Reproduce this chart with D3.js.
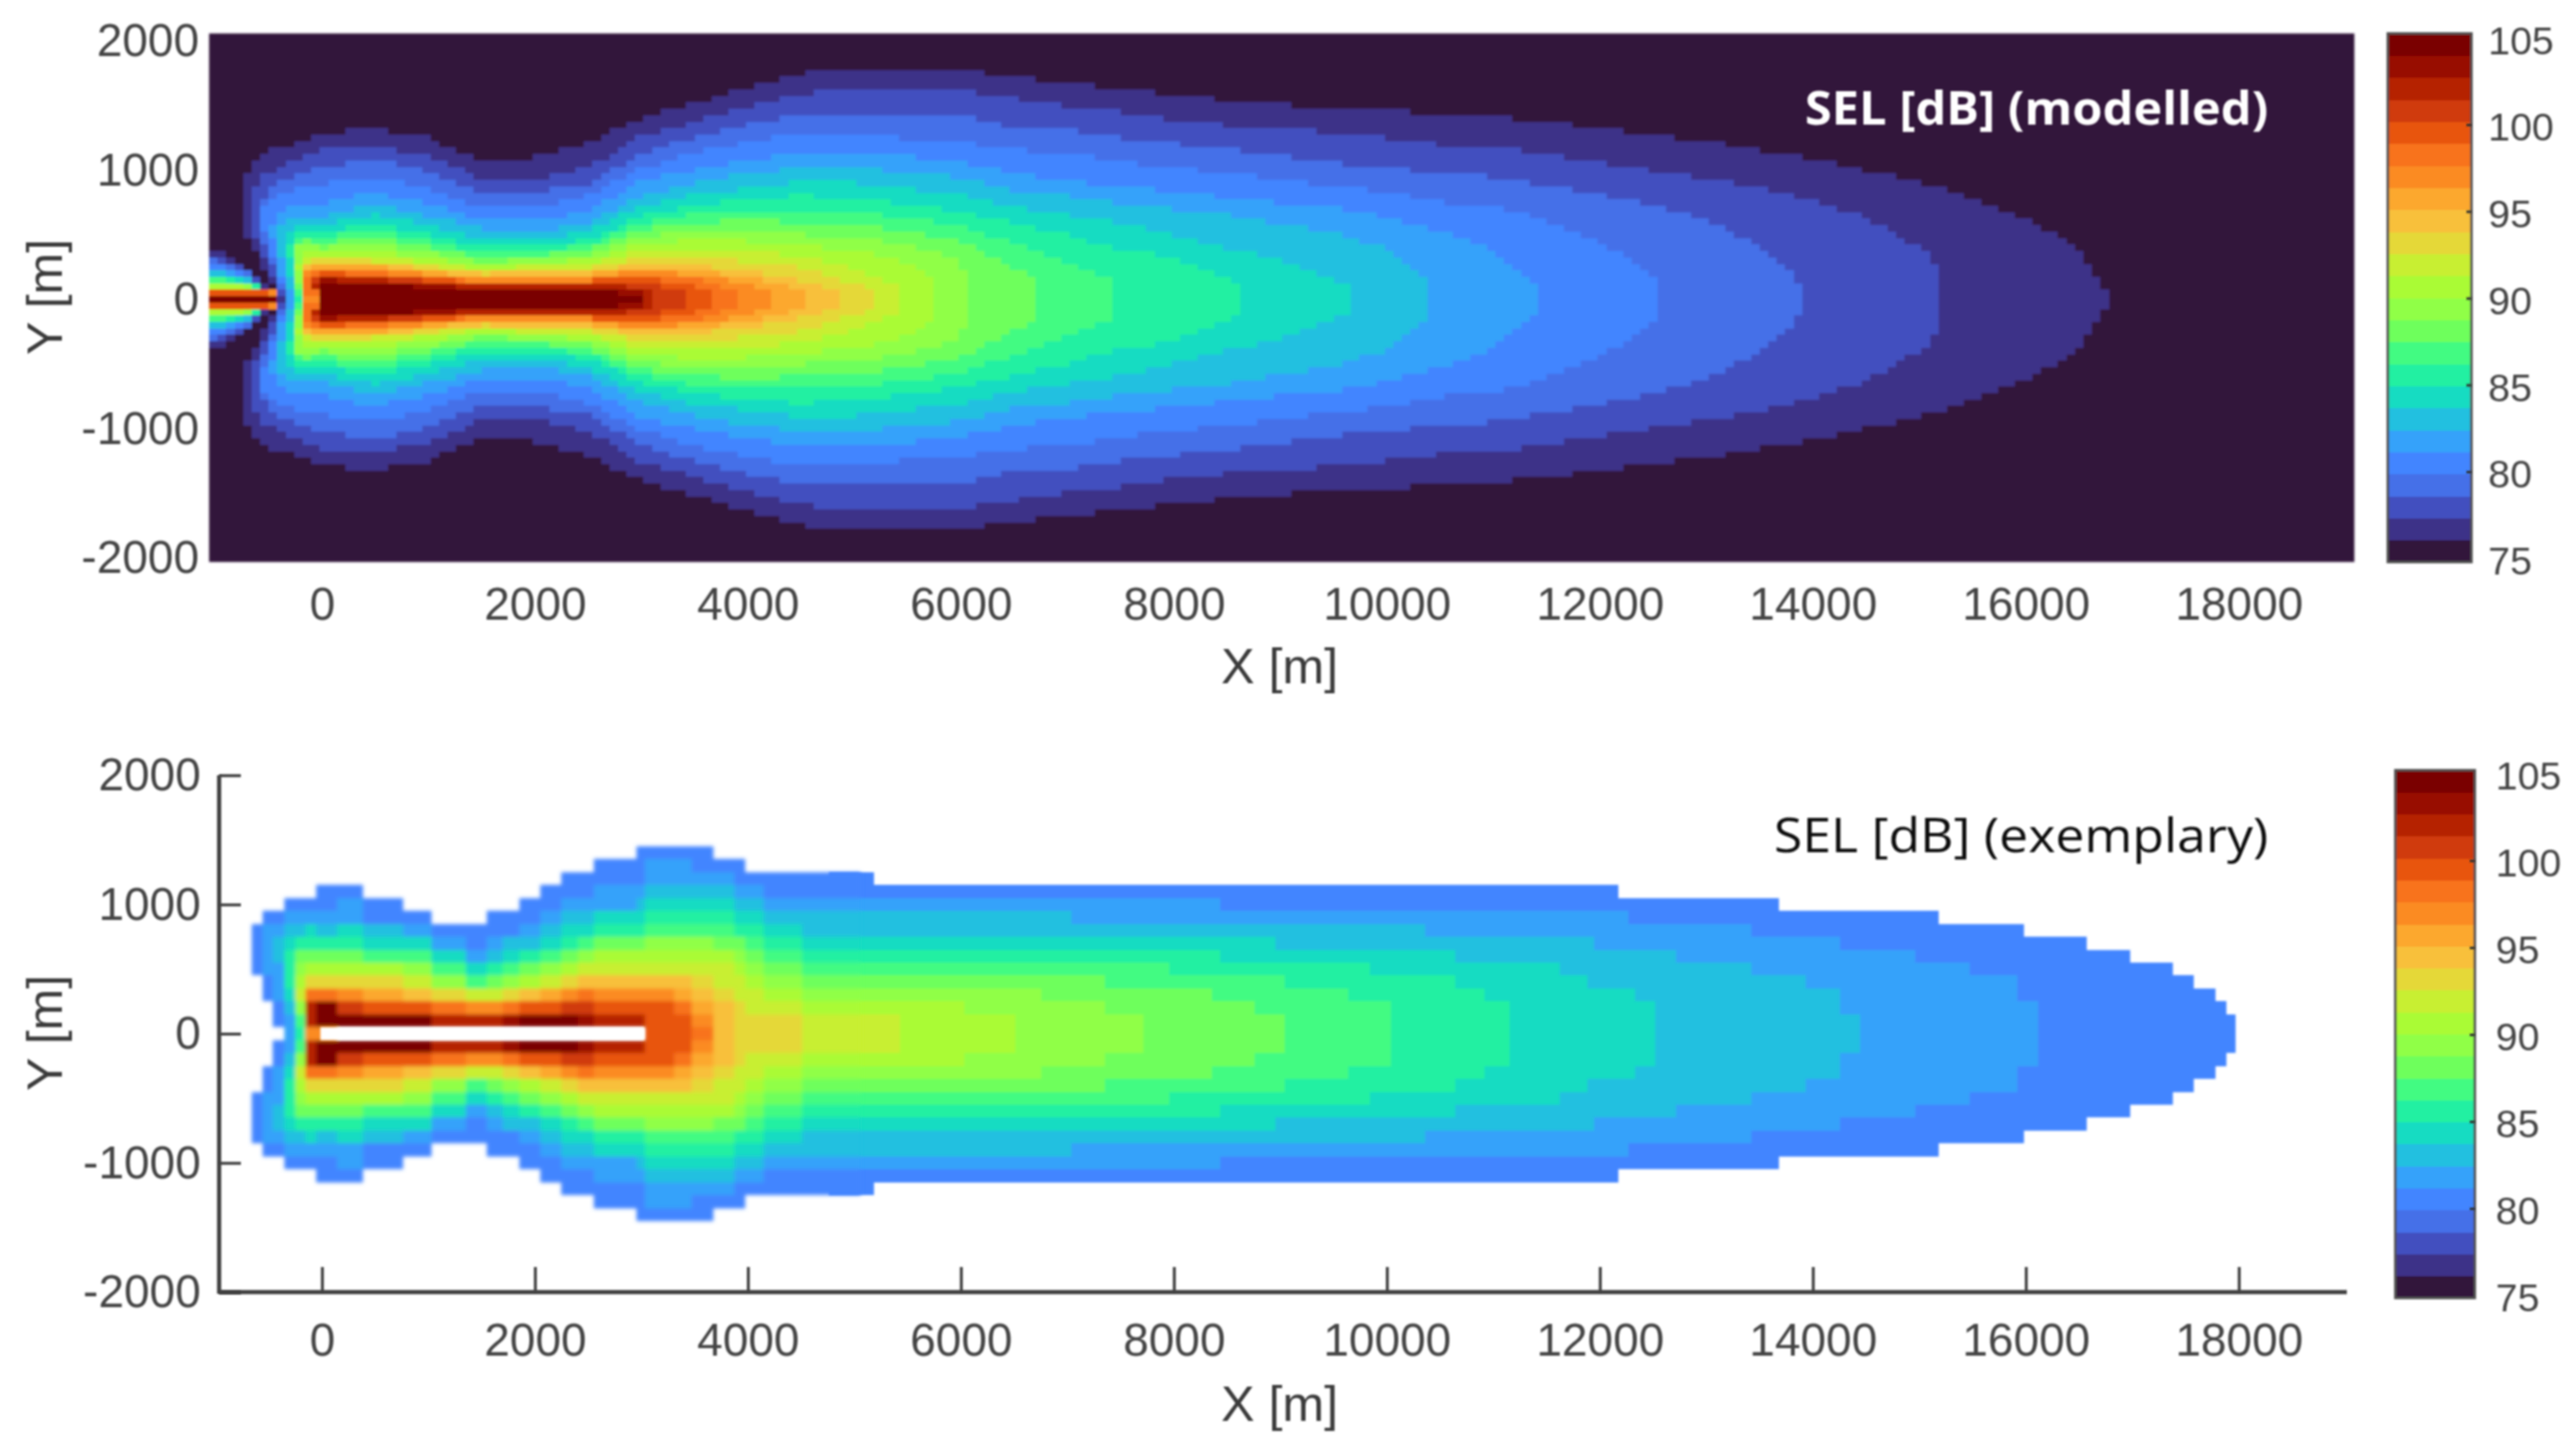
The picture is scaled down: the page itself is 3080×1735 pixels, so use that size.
<!DOCTYPE html>
<html><head><meta charset="utf-8">
<script src="https://cdn.jsdelivr.net/npm/d3@7"></script>
<style>html,body{margin:0;background:#fff}svg{display:block}text{font-family:"Liberation Sans",Arial,sans-serif}</style>
</head><body><svg id="c" width="3080" height="1735"></svg>
<script>
// ---- shared values ----
const xTicks=[0,2000,4000,6000,8000,10000,12000,14000,16000,18000];
const yTicks=[-2000,-1000,0,1000,2000];
const barTicks=[75,80,85,90,95,100,105];
const xDomain=[-1060,19085];
const bandColors=["#30123b","#3c3388","#4350bf","#4470e8","#4285ff","#35a2fa","#22c0e0","#18dcc2","#20f0a2","#42fb82","#6eff5c","#90ff46","#aafb36","#c8ef33","#e5d838","#f8c03a","#fca82f","#fb8b24","#f8731c","#e85510","#d03a08","#b52004","#980f02","#7a0403"];

// ---- modelled panel: half-width (m) of each SEL contour at these X stations ----
const modelledStations=[0,500,1000,1500,2000,2500,3000,3500,4000,4500,5000,5500,6000,6500,7000,7500,8000,8500,9000,9500,10000,10500,11000,11500,12000,12500,13000,13500,14000,14500,15000,15500,16000,16500];
const modelledHalfWidths=[
[1281,1324,1249,1055,1098,1217,1400,1519,1637,1745,1788,1799,1767,1723,1669,1637,1572,1540,1508,1475,1465,1432,1421,1368,1324,1270,1227,1152,1087,990,915,771,627,396],
[1152,1195,1098,936,915,1022,1260,1378,1486,1583,1637,1637,1616,1551,1497,1454,1389,1346,1314,1292,1249,1195,1184,1119,1055,990,936,861,764,634,396],
[1012,1087,990,807,828,893,1130,1260,1357,1432,1443,1443,1421,1335,1314,1249,1206,1163,1109,1055,1022,979,947,882,807,731,613,418],
[893,947,850,710,699,807,1012,1141,1217,1281,1260,1249,1217,1152,1141,1066,1022,979,925,882,828,753,720,613,440,200],
[742,828,731,623,613,677,915,1001,1076,1130,1119,1109,1055,979,915,871,839,785,742,710,634,526,386],
[645,731,645,548,526,591,807,904,969,1022,1012,990,936,850,807,742,699,656,580,516,397],
[580,656,569,472,462,526,720,807,861,915,904,861,807,710,656,591,494,397,300,160],
[526,591,505,408,418,462,645,731,774,807,774,742,677,591,505,375,332,160],
[483,537,451,354,375,418,591,656,688,699,667,634,559,440,289],
[440,472,408,321,343,375,537,591,613,591,569,537,440,246],
[397,418,365,289,311,343,483,526,537,505,472,429,289],
[365,365,321,257,278,311,429,462,451,418,375,289],
[332,332,289,235,257,278,375,397,375,332,246],
[311,300,257,214,235,246,321,332,289,246,116],
[289,278,235,198,214,214,278,267,224,138],
[267,257,214,181,192,192,246,224,170],
[246,235,192,160,170,170,220,192,130],
[224,214,170,142,149,149,192,160],
[207,192,165,140,140,150,164,116],
[186,175,145,120,120,130,127],
[170,155,125,105,105,110,95],
[155,135,110,90,88,92,70],
[140,120,95,75,70,70,30]];
const modelledTips=[[16815,0],[15210,250],[13925,100],[12540,120],[11430,100],[10420,150],[9640,100],[8620,100],[7420,150],[6740,120],[6030,200],[5720,150],[5435,90],[5200,70],[4830,80],[4515,70],[4230,60],[3910,60],[3630,60],[3440,50],[3130,40],[3060,30],[3010,0]];
const modelledLeftEdges=[
[[-379,0],[-471,138],[-589,311],[-720,505],[-759,613],[-759,936],[-667,1022],[-563,1119],[-353,1184],[-65,1270]],
[[-366,0],[-432,138],[-550,332],[-641,505],[-667,828],[-536,958],[-327,1066],[-13,1152]],
[[-353,0],[-419,181],[-563,462],[-615,720],[-458,871],[-222,979]],
[[-340,0],[-445,267],[-563,569],[-563,720],[-379,807],[-170,871]],
[[-327,0],[-405,267],[-471,526],[-432,656],[-275,720]],
[[-275,0],[-353,246],[-405,440],[-379,569],[-222,645]],
[[-248,0],[-314,246],[-353,397],[-301,526],[-170,591]],
[[-222,0],[-288,246],[-314,397],[-275,505],[-144,548]],
[[-209,0],[-275,246],[-275,440],[-170,494]],
[[-196,0],[-261,246],[-248,440],[-144,462]],
[[-183,0],[-248,246],[-235,397],[-117,440]],
[[-170,0],[-227,246],[-209,354],[-91,397]],
[[-165,0],[-209,181],[-183,311],[-78,354]],
[[-157,0],[-183,181],[-157,289]],
[[-157,0],[-157,257]],
[[-157,0],[-157,235]],
[[-144,0],[-144,203]],
[[-52,0],[-52,41],[-144,41],[-144,170]],
[[-39,0],[-39,52],[-139,62],[-139,160]],
[[-26,0],[-39,62],[-131,73],[-131,138]],
[[-26,0],[-39,73],[-104,95],[-104,127]],
[[-26,0],[-26,95],[-65,116]],
[[-13,0],[-13,95]]];
// small wedge at the left edge of the modelled panel
const lobeStations=[-1100,-878,-694,-563,-458];
const lobeHalfWidths=[[408,332,237,127,52],[370,300,215,105,40],[335,275,200,95,30],[290,250,180,85,20],[250,220,165,90,30],[215,195,150,88,35],[195,180,140,86,38],[175,165,130,84,40],[160,150,120,82,42],[140,135,112,80,44],[125,120,105,78,46],[112,110,98,76,48],[100,100,90,74,50],[92,92,85,72,52],[85,85,80,70,54],[78,78,75,66,52],[72,72,70,62,50],[64,64,63,58,46],[58,58,58,54,42],[50,50,50,48,38],[44,44,44,42,32],[36,36,36,34,26],[30,30,30,28,20]];
const lobeTips=[-379,-400,-420,-430,-435,-438,-440,-440,-440,-440,-440,-440,-440,-440,-440,-440,-440,-445,-445,-445,-445,-445,-445];

// ---- exemplary panel: near field, band per row (Y = 0,100,...,1400) in columns starting at X ----
const nearColumnStarts=[-660,-560,-460,-350,-250,-155,-55,145,386,766,1027,1350,1550,1700,1850,2050,2250,2400,2550,2950,3030,3310,3470,3672,3870,3972,4150,4510];
const nearColumnEnd=5060;
const nearBands=[
[0,0,0,0,0,4,4,4,4,0,0,0,0,0,0],
[0,0,0,4,4,5,5,5,5,4,0,0,0,0,0],
[0,4,4,5,5,5,6,6,5,4,0,0,0,0,0],
[5,5,6,7,8,8,8,7,6,5,4,0,0,0,0],
[8,9,11,13,12,11,10,8,6,5,4,0,0,0,0],
[17,21,21,18,14,12,10,8,7,5,4,0,0,0,0],
[17,23,23,18,14,12,10,8,6,5,4,4,0,0,0],
[0,23,20,17,14,12,10,8,7,5,5,4,0,0,0],
[0,23,19,16,14,12,9,7,6,4,4,0,0,0,0],
[0,23,19,15,13,11,9,7,5,4,0,0,0,0,0],
[0,21,18,14,11,9,7,5,4,0,0,0,0,0,0],
[0,21,17,13,9,7,5,4,4,0,0,0,0,0,0],
[0,21,17,13,10,8,6,5,4,4,0,0,0,0,0],
[0,22,18,14,11,9,7,6,4,4,0,0,0,0,0],
[0,23,19,15,12,10,8,6,5,4,4,0,0,0,0],
[0,23,19,16,13,11,9,7,6,5,4,4,0,0,0],
[0,23,20,17,14,12,10,8,7,6,5,4,4,0,0],
[0,22,20,18,15,13,11,9,7,6,5,4,4,0,0],
[0,21,19,17,15,13,12,10,8,7,5,5,4,4,0],
[0,21,19,17,15,13,12,10,8,7,6,5,4,4,4],
[19,19,19,17,15,13,12,11,9,8,7,6,5,5,4],
[19,19,18,16,15,13,12,11,9,8,7,6,5,5,4],
[18,17,16,15,14,13,12,11,9,8,7,6,5,4,4],
[15,15,15,14,13,13,12,10,9,8,7,6,5,4,0],
[14,14,14,13,13,12,11,10,8,7,6,5,4,4,0],
[14,14,13,13,12,11,10,9,8,7,6,5,4,0,0],
[14,14,13,12,11,10,9,8,7,6,5,4,4,0,0],
[13,13,12,11,10,9,8,7,6,6,5,4,4,0,0]];
// far field: for each band, [until X, half-width] stair steps; painted from farStart, under the near field
const farStart=4760;
const farBandIds=[4,5,6,7,8,9,10,11,12,13];
const farStairs=[
[[5180,1250],[12172,1150],[13680,1050],[15180,950],[15985,850],[16570,750],[16980,650],[17380,550],[17580,450],[17780,350],[17880,250],[17970,150]],
[[8436,1050],[12267,950],[13421,850],[14254,750],[14959,650],[15472,550],[15920,450],[16113,250]],
[[7034,950],[10360,850],[11946,750],[12716,650],[13421,550],[13933,450],[14254,350],[14446,150]],
[[8957,750],[10640,650],[11626,550],[11882,450],[12331,350],[12523,250]],
[[8436,650],[9839,550],[10640,450],[10920,350],[11150,250]],
[[7955,550],[9037,450],[9638,350],[10040,250]],
[[7354,450],[8356,350],[8757,250],[9037,150]],
[[6753,350],[7354,250],[7715,150]],
[[6032,250],[6510,150]],
[[5430,150]]];
const sourceLineX=[-15,3030];
const sourceLineHalfWidth=50;

// ---- scales ----
const svg=d3.select("#c");
const defs=svg.append("defs");
defs.append("filter").attr("id","soft").append("feGaussianBlur").attr("stdDeviation",1.6);
defs.append("filter").attr("id","softNear").append("feGaussianBlur").attr("stdDeviation",2.4);
defs.append("filter").attr("id","softText").append("feGaussianBlur").attr("stdDeviation",0.9);
const x=d3.scaleLinear().domain(xDomain).range([250,2815]);
const yTop=d3.scaleLinear().domain([-2000,2000]).range([667,49]);
const yBot=d3.scaleLinear().domain([-2000,2000]).range([1545,927]);
const panelTopPx=[40,672];

// ---- modelled heat map: pcolor-like cells (80 m x 50 m) coloured by the contours ----
function closed(upper){return upper.concat(upper.slice().reverse().map(p=>[p[0],-p[1]]));}
const mainPolys=modelledHalfWidths.map((row,i)=>closed(modelledLeftEdges[i].concat(row.map((v,j)=>[modelledStations[j],v])).concat([modelledTips[i],[modelledTips[i][0],0]])));
const lobePolys=lobeHalfWidths.map((row,i)=>closed(row.map((v,j)=>[lobeStations[j],v]).concat([[lobeTips[i],0]])));
function bandAt(X,Y){for(let i=22;i>=0;i--){if(d3.polygonContains(mainPolys[i],[X,Y])||d3.polygonContains(lobePolys[i],[X,Y]))return i+1;}return 0;}
const dX=80,dY=50,runs=[];
for(let k=0;k<=37;k++){
  const Y=k*dY+0.01;let start=null,cur=0;
  for(let X=xDomain[0];X<=xDomain[1];X+=dX){
    const b=bandAt(X+dX/2,Y);
    if(b!==cur){if(cur)runs.push({x0:start,x1:X,k,b:cur});start=X;cur=b;}
  }
  if(cur)runs.push({x0:start,x1:xDomain[1],k,b:cur});
}
const gTop=svg.append("g").attr("filter","url(#soft)").attr("shape-rendering","crispEdges");
gTop.append("rect").attr("x",x(xDomain[0])).attr("width",x(xDomain[1])-x(xDomain[0])).attr("y",panelTopPx[0]).attr("height",panelTopPx[1]-panelTopPx[0]).attr("fill",bandColors[0]);
[1,-1].forEach(sign=>{
  gTop.append("g").selectAll("rect").data(runs.filter(r=>sign>0||r.k>0)).join("rect")
   .attr("x",r=>Math.round(x(r.x0))).attr("width",r=>Math.round(x(r.x1))-Math.round(x(r.x0)))
   .attr("y",r=>Math.round(yTop(sign*r.k*dY+dY/2)))
   .attr("height",r=>Math.round(yTop(sign*r.k*dY-dY/2))-Math.round(yTop(sign*r.k*dY+dY/2)))
   .attr("fill",r=>bandColors[r.b]);
});

// ---- exemplary heat map ----
const gBot=svg.append("g").attr("filter","url(#soft)").attr("shape-rendering","crispEdges");
farBandIds.forEach((b,i)=>{
  let from=farStart;
  const steps=farStairs[i].map(([until,h])=>{const s={x0:from,x1:until,h};from=until;return s;});
  gBot.append("g").selectAll("rect").data(steps).join("rect")
   .attr("x",s=>Math.round(x(s.x0))).attr("width",s=>Math.round(x(s.x1))-Math.round(x(s.x0)))
   .attr("y",s=>Math.round(yBot(s.h))).attr("height",s=>Math.round(yBot(-s.h))-Math.round(yBot(s.h)))
   .attr("fill",bandColors[b]);
});
const nearCells=[];
nearBands.forEach((col,c)=>{
  const x0=nearColumnStarts[c],x1=c+1<nearColumnStarts.length?nearColumnStarts[c+1]:nearColumnEnd;
  col.forEach((b,r)=>{if(b){nearCells.push({x0,x1,r,s:1,b});if(r>0)nearCells.push({x0,x1,r,s:-1,b});}});
});
const gNear=svg.append("g").attr("filter","url(#softNear)").attr("shape-rendering","crispEdges");
gNear.selectAll("rect").data(nearCells).join("rect")
 .attr("x",d=>Math.round(x(d.x0))).attr("width",d=>Math.round(x(d.x1))-Math.round(x(d.x0)))
 .attr("y",d=>Math.round(yBot(d.s*d.r*100+50)))
 .attr("height",d=>Math.round(yBot(d.s*d.r*100-50))-Math.round(yBot(d.s*d.r*100+50)))
 .attr("fill",d=>bandColors[d.b]);
svg.append("rect").attr("filter","url(#soft)").attr("x",x(sourceLineX[0])).attr("width",x(sourceLineX[1])-x(sourceLineX[0]))
 .attr("y",yBot(sourceLineHalfWidth)).attr("height",yBot(-sourceLineHalfWidth)-yBot(sourceLineHalfWidth)).attr("fill","#fff");

// ---- axes ----
const tf=d=>String(d),txtCol="#454545",fs=55;
function styleAxis(g,lineW,showLines){
  g.select(".domain").remove();
  g.selectAll("text").attr("font-size",fs).attr("fill",txtCol).attr("font-family",'"Liberation Sans",Arial,sans-serif');
  g.selectAll("line").attr("stroke","#404040").attr("stroke-width",lineW).attr("display",showLines?null:"none");
  g.attr("filter","url(#softText)");
}
svg.append("g").attr("transform","translate(0,672)").call(d3.axisBottom(x).tickValues(xTicks).tickFormat(tf).tickSize(0).tickPadding(30)).call(g=>styleAxis(g,0,false));
svg.append("g").attr("transform","translate(250,0)").call(d3.axisLeft(yTop).tickValues(yTicks).tickFormat(tf).tickSize(0).tickPadding(12)).call(g=>styleAxis(g,0,false));
svg.append("g").attr("transform","translate(0,1545)").call(d3.axisBottom(x).tickValues(xTicks).tickFormat(tf).tickSizeInner(-30).tickSizeOuter(0).tickPadding(37)).call(g=>styleAxis(g,3.5,true));
svg.append("g").attr("transform","translate(262,0)").call(d3.axisLeft(yBot).tickValues(yTicks).tickFormat(tf).tickSizeInner(-26).tickSizeOuter(0).tickPadding(22)).call(g=>styleAxis(g,3.5,true));
const axisLines=svg.append("g").attr("stroke","#404040").attr("stroke-width",5).attr("filter","url(#softText)");
axisLines.append("line").attr("x1",262).attr("x2",2806).attr("y1",1545).attr("y2",1545);
axisLines.append("line").attr("x1",262).attr("x2",262).attr("y1",yBot(2000)).attr("y2",1547);

// ---- colourbars ----
function colourbar(x0,x1,top,bottom,y100,y80,labelPad){
  const band=d3.scaleLinear().domain([0,24]).range([bottom,top]);
  const tickY=d3.scaleLinear().domain([80,100]).range([y80,y100]);
  const g=svg.append("g").attr("filter","url(#softText)");
  g.append("g").attr("shape-rendering","crispEdges").selectAll("rect").data(bandColors).join("rect")
   .attr("x",x0).attr("width",x1-x0).attr("y",(c,i)=>band(i+1)).attr("height",(c,i)=>band(i)-band(i+1)+0.5).attr("fill",c=>c);
  g.append("rect").attr("x",x0).attr("y",top).attr("width",x1-x0).attr("height",bottom-top).attr("fill","none").attr("stroke","#505050").attr("stroke-width",3);
  const ax=svg.append("g").attr("transform",`translate(${x1},0)`).call(d3.axisRight(tickY).tickValues(barTicks).tickFormat(tf).tickSizeInner(-6).tickSizeOuter(0).tickPadding(labelPad));
  ax.select(".domain").remove();
  ax.selectAll("text").attr("font-size",47).attr("fill",txtCol).attr("dy","0.40em");
  ax.selectAll("line").attr("stroke","#303030").attr("stroke-width",3).filter(d=>d===75||d===105).attr("display","none");
  ax.attr("filter","url(#softText)");
}
colourbar(2855,2955,40,672,149,564,20);
colourbar(2864,2959,921,1552,1029,1445,25);

// ---- labels ----
const labels=svg.append("g").attr("filter","url(#softText)");
[["X [m]",1530,817,null],["X [m]",1530,1699,null],["Y [m]",74,355,-90],["Y [m]",74,1235,-90]].forEach(([t,px,py,rot])=>{
  labels.append("text").text(t).attr("text-anchor","middle").attr("font-size",60).attr("fill","#3a3a3a")
   .attr("transform",`translate(${px},${py})`+(rot?` rotate(${rot})`:""));
});
labels.append("text").text("SEL [dB] (modelled)").attr("x",2712).attr("y",149).attr("text-anchor","end")
 .attr("font-size",56).attr("font-weight",700).attr("fill","#fff").attr("textLength",554).attr("lengthAdjust","spacingAndGlyphs")
 .style("font-family",'"Open Sans",sans-serif');
labels.append("text").text("SEL [dB] (exemplary)").attr("x",2712).attr("y",1019).attr("text-anchor","end")
 .attr("font-size",56).attr("font-weight",500).attr("fill","#111").attr("textLength",591).attr("lengthAdjust","spacingAndGlyphs")
 .style("font-family",'"Open Sans",sans-serif');
</script></body></html>
